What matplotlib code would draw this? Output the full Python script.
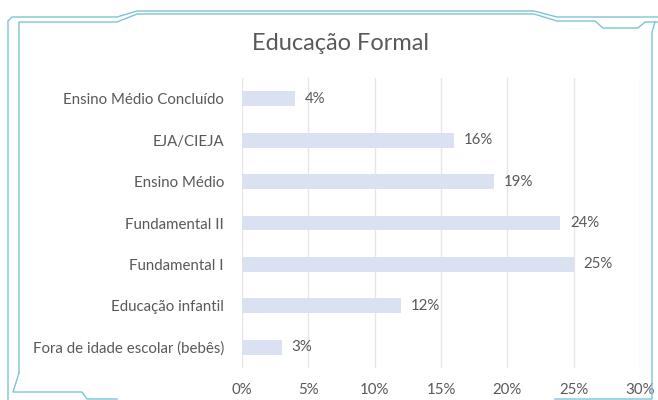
import matplotlib.pyplot as plt
from matplotlib.lines import Line2D

plt.rcParams['font.family'] = ['Lato', 'DejaVu Sans']

categorias = ['Ensino Médio Concluído', 'EJA/CIEJA', 'Ensino Médio', 'Fundamental II',
              'Fundamental I', 'Educação infantil', 'Fora de idade escolar (bebês)']
valores = [4, 16, 19, 24, 25, 12, 3]
ticks = [0, 5, 10, 15, 20, 25, 30]

W, H = 658, 400
fig = plt.figure(figsize=(W / 100, H / 100), dpi=100)
ax = fig.add_axes([242 / W, 1 - 368 / H, (640 - 242) / W, (368 - 78) / H])

cinza = '#595959'
pos = list(range(len(categorias)))[::-1]
ax.barh(pos, valores, height=0.36, color='#dae1f3', zorder=2)
for p, v in zip(pos, valores):
    ax.text(v + 0.75, p, f'{v}%', va='center', ha='left', fontsize=10.8, color=cinza)

ax.set_xlim(0, 30)
ax.set_ylim(-0.5, 6.5)
ax.set_xticks(ticks)
ax.set_xticklabels([f'{t}%' for t in ticks])
ax.set_yticks(pos)
ax.set_yticklabels(categorias)
ax.tick_params(axis='both', length=0, labelsize=10.8, labelcolor=cinza)
ax.tick_params(axis='y', pad=13)
ax.tick_params(axis='x', pad=11)
ax.grid(axis='x', color='#e6e6e6', lw=1, zorder=0)
for s in ax.spines.values():
    s.set_visible(False)

fig.text(340 / W, 1 - 43 / H, 'Educação Formal', ha='center', va='center',
         fontsize=17, color=cinza)

# moldura decorativa
azul = '#7cc4d8'
def linha(pts):
    xs = [p[0] / W for p in pts]
    ys = [1 - p[1] / H for p in pts]
    fig.add_artist(Line2D(xs, ys, color=azul, lw=1, transform=fig.transFigure))

linha([(8, 400), (8, 21), (12, 17), (117, 17), (137, 11), (534, 11), (557, 17), (658, 17)])
linha([(19, 373), (19, 22), (117, 22), (137, 14), (534, 14), (557, 21), (595, 21),
       (603, 28), (638, 28), (645, 22), (658, 22)])
linha([(655, 22), (652, 32), (652, 399), (555, 399)])
linha([(19, 373), (13, 392), (82, 392), (87, 399), (117, 399)])

fig.savefig('out.png', dpi=100)
